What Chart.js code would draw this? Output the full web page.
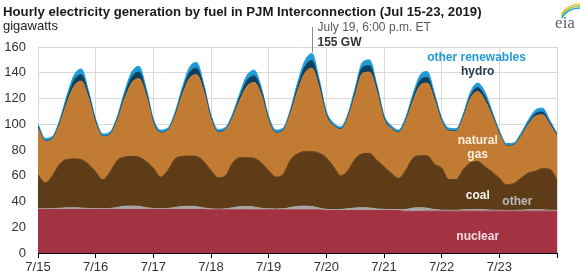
<!DOCTYPE html>
<html><head><meta charset="utf-8">
<script src="https://cdn.jsdelivr.net/npm/chart.js@4.4.1/dist/chart.umd.min.js"></script>
<style>html,body{margin:0;padding:0;background:#fff;}canvas{display:block;}</style>
</head><body>
<canvas id="c" width="588" height="276"></canvas>
<script>
// hours since Jul 15 00:00 ET (3-hour samples)
const hours = [0,3,6,9,12,15,18,21, 24,27,30,33,36,39,42,45, 48,51,54,57,60,63,66,69,
  72,75,78,81,84,87,90,93, 96,99,102,105,108,111,114,117, 120,123,126,129,132,135,138,141,
  144,147,150,153,156,159,162,165, 168,171,174,177,180,183,186,189, 192,195,198,201,204,207,210,213, 216];
const tickHours = [0,24,48,72,96,120,144,168,192,216];
const dayLabels = ['7/15','7/16','7/17','7/18','7/19','7/20','7/21','7/22','7/23',''];
const yTickStep = 20;

// gigawatts by fuel
const nuclear = [33.8,33.8,33.8,33.8,33.8,33.8,33.8,33.8, 33.8,33.8,33.8,33.8,33.8,33.8,33.8,33.8,
  33.8,33.8,33.8,33.8,33.8,33.8,33.8,33.8, 33.5,33.5,33.5,33.5,33.5,33.5,33.5,33.5,
  33.5,33.5,33.5,33.5,33.5,33.5,33.5,33.5, 33,33,33,33,33,33,33,33,
  33,33,33,32.3,32.3,32.3,32.5,32.5, 32.5,32.5,32.5,32.5,32.5,32.5,32.5,32.5,
  32.5,32.5,32.5,32.5,32.5,32.5,32.5,32.5, 32.5];
const other = [0.6,0.5,0.6,1.0,1.3,1.3,1.1,0.8, 0.7,0.6,0.8,1.6,2.5,2.7,2.4,1.4,
  0.8,0.6,0.8,1.6,2.3,2.5,2.2,1.2, 0.8,0.6,0.8,1.7,2.5,2.7,2.2,1.2,
  0.8,0.7,0.8,1.8,2.7,2.9,2.6,1.4, 0.9,0.7,0.8,1.3,2.0,2.2,2.0,1.2,
  0.9,0.7,0.8,1.5,2.6,2.8,2.3,1.2, 0.8,0.7,0.7,1.0,1.3,1.3,1.1,0.8,
  0.7,0.6,0.6,0.8,1.1,1.1,1.0,0.7, 0.6];
const coal = [26.2,20.2,25.6,34.2,37.6,37.9,37.6,34.4, 28.5,22.6,28.4,36.6,38.2,38.5,38.3,35.8,
  31.4,24.6,29.4,37.6,38.9,39.0,39.0,36.0, 29.7,24.4,25.7,34.8,38.0,37.8,37.8,35.3,
  29.7,24.8,26.7,36.7,40.8,42.3,42.6,42.6, 40.1,33.3,26.2,29.7,38.0,41.8,42.4,37.8,
  33.1,28.3,24.2,30.2,38.6,40.4,40.7,35.3, 32.7,23.8,23.8,31.5,36.2,37.2,33.4,29.7,
  24.8,19.9,20.9,24.7,28.4,29.9,32.0,31.8, 23.9];
const naturalGas = [36.2,32.2,28.4,30.8,43.8,56.5,61,51.5, 37.5,33.2,28.9,30.8,45,57,61,51.5,
  34.5,34.2,30.9,32.8,47.5,60.2,63.5,54.5, 39.5,35.2,35.4,34.8,44.5,55.5,59,52.5,
  38.5,34.2,33.9,35.6,48.5,60.8,64.8,51, 32.3,31.7,35.9,41,49.5,62.5,63.1,53.5,
  36.5,34.7,35.4,38,44,54.5,56.5,50, 35.8,37.7,37.4,40,50,54.5,51.5,43.3,
  34.4,30,29.6,32.4,37.6,42.7,41.8,34.8, 33.6];
const hydro = [1.2,0.5,0.5,1.2,2.5,4.5,5,3, 1.5,0.5,0.5,1.2,2.5,4.5,5,3,
  1.5,0.5,0.5,1.2,2.5,4.5,5,3, 1.5,0.5,0.5,1.2,2.5,4.5,5,3,
  1.5,0.5,0.5,1.2,3,5,6,3.5, 1.5,0.5,0.5,1,2.5,4.5,5,3,
  1.5,0.5,0.5,1,2.5,4,4.5,2.5, 1.2,0.5,0.5,1,2,3,3,1.5,
  0.8,0.4,0.4,0.8,1.2,2,2.2,1.2, 0.8];
const otherRenewables = [2,1.8,1.6,2,3,4,4.5,2.5, 2,1.8,1.6,2,3,4,4.5,2.5,
  2,1.8,1.6,2,3,4,4.5,2.5, 2,1.8,1.6,2,3,4,4.5,2.5,
  2,1.8,1.6,2.2,3.5,4.5,5.5,3, 2.2,1.8,1.6,2,3,4,4.5,2.5,
  2,1.8,1.6,2,3,4,4.5,2.5, 2,1.8,1.6,2,3,3.5,3.5,2.2,
  1.8,1.6,1.5,1.8,2.2,2.8,3,2, 1.6];

const peakHour = 114, peakGW = 155;

const FONT = "'Liberation Sans', Arial, sans-serif";
function pts(arr){ return hours.map((h,i)=>({x:h, y:arr[i]})); }
function ds(label, arr, color, fill){
  return {label, data: pts(arr), backgroundColor: color, borderColor: color, borderWidth: 1,
    fill, pointRadius: 0, cubicInterpolationMode: 'monotone'};
}

const labelPlugin = {
  id: 'labels',
  afterDatasetsDraw(chart){
    const {ctx, scales:{x, y}} = chart;
    ctx.save();
    const labs = [
      ['other renewables', 182.5, 152, '#1f9bd7'],
      ['hydro', 183, 141, '#263b4c'],
      ['natural', 183, 87.5, '#fbeedd'],
      ['gas', 183, 76, '#fbeedd'],
      ['coal', 183, 44.5, '#f6f1ea'],
      ['other', 199.5, 40, '#b9b9b9'],
      ['nuclear', 183, 13, '#f4d9dd']
    ];
    ctx.font = "bold 12px " + FONT;
    ctx.textAlign = 'center';
    ctx.textBaseline = 'middle';
    labs.forEach(([t,h,g,c])=>{ ctx.fillStyle = c; ctx.fillText(t, x.getPixelForValue(h), y.getPixelForValue(g)); });
    const px = Math.round(x.getPixelForValue(peakHour)) + 0.5;
    const py = y.getPixelForValue(peakGW);
    ctx.strokeStyle = '#8c8c8c'; ctx.lineWidth = 1;
    ctx.beginPath(); ctx.moveTo(px, 27); ctx.lineTo(px, py - 1); ctx.stroke();
    ctx.textAlign = 'left'; ctx.textBaseline = 'alphabetic';
    ctx.fillStyle = '#595959'; ctx.font = "12px " + FONT;
    ctx.fillText('July 19, 6:00 p.m. ET', px + 5, 31);
    ctx.fillStyle = '#333'; ctx.font = "bold 12px " + FONT;
    ctx.fillText('155 GW', px + 5, 46);
    ctx.restore();
  },
  afterDraw(chart){
    const ctx = chart.ctx;
    ctx.save();
    ctx.fillStyle = '#1a1a1a';
    ctx.font = "bold 13.2px " + FONT;
    ctx.textAlign = 'left'; ctx.textBaseline = 'alphabetic';
    ctx.fillText('Hourly electricity generation by fuel in PJM Interconnection (Jul 15-23, 2019)', 3, 16);
    ctx.font = "13px " + FONT;
    ctx.fillStyle = '#222';
    ctx.fillText('gigawatts', 3, 30);
    const arcs = [['#f2c12e',0],['#8cc63f',2],['#2d9fd9',4]];
    arcs.forEach(([c,o])=>{
      ctx.strokeStyle = c; ctx.lineWidth = 1.5;
      ctx.beginPath(); ctx.arc(580, 26 + o, 22, Math.PI*1.18, Math.PI*1.5); ctx.stroke();
    });
    ctx.fillStyle = '#5b6770';
    ctx.font = "17px 'Liberation Serif', 'DejaVu Serif', serif";
    ctx.textAlign = 'center';
    ctx.fillText('eia', 565, 28);
    ctx.restore();
  }
};

new Chart(document.getElementById('c'), {
  type: 'line',
  data: { datasets: [
    ds('nuclear', nuclear, '#a33342', 'origin'),
    ds('other', other, '#a6a6a6', '-1'),
    ds('coal', coal, '#5e3c18', '-1'),
    ds('natural gas', naturalGas, '#c27b32', '-1'),
    ds('hydro', hydro, '#0b3f5e', '-1'),
    ds('other renewables', otherRenewables, '#1f9bd7', '-1')
  ]},
  options: {
    responsive: false, animation: false, devicePixelRatio: 1,
    layout: { padding: { top: 47, right: 31, left: 0, bottom: 0 } },
    plugins: { legend: { display: false }, tooltip: { enabled: false }, title: { display: false } },
    elements: { line: { tension: 0.4 } },
    scales: {
      x: {
        type: 'linear', min: 0, max: 216,
        afterBuildTicks: s => { s.ticks = tickHours.map(v => ({value: v})); },
        ticks: { autoSkip: false, maxRotation: 0, padding: 2, color: '#333',
          font: { size: 13, family: FONT },
          callback: v => { const i = tickHours.indexOf(v); return i >= 0 ? dayLabels[i] : ''; } },
        grid: { color: '#d9d9d9', tickColor: '#000', tickLength: 5 },
        border: { color: '#000', width: 1 },
        afterFit: s => { s.height = 23; }
      },
      y: {
        stacked: true, min: 0, max: 160,
        ticks: { stepSize: yTickStep, padding: 12, color: '#333', font: { size: 13, family: FONT } },
        grid: { color: '#d9d9d9', drawTicks: false },
        border: { display: false },
        afterFit: s => { s.width = 38; }
      }
    }
  },
  plugins: [labelPlugin]
});
</script>
</body></html>
